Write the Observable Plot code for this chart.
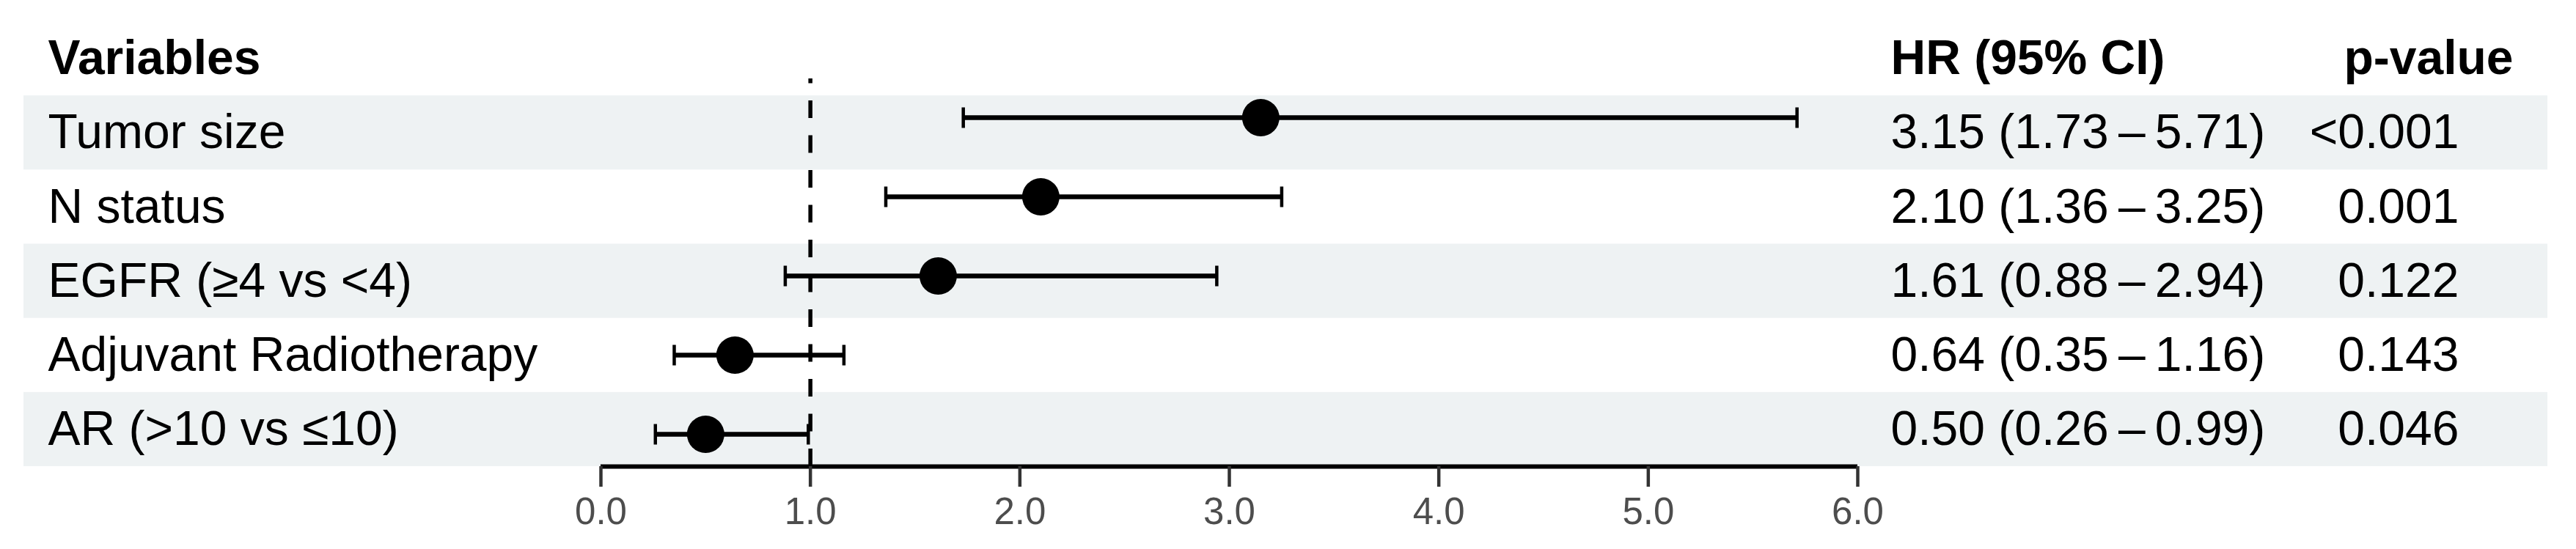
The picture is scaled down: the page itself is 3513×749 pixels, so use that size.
<!DOCTYPE html>
<html>
<head>
<meta charset="utf-8">
<script src="https://cdn.jsdelivr.net/npm/d3@7"></script>
<script src="https://cdn.jsdelivr.net/npm/@observablehq/plot@0.6"></script>
<style>
  html, body { margin: 0; padding: 0; background: #ffffff; }
  #chart { width: 3513px; height: 749px; }
</style>
</head>
<body>
<div id="chart"></div>
<script>
// ---- data ----
const variables = ["Tumor size", "N status", "EGFR (≥4 vs <4)", "Adjuvant Radiotherapy", "AR (>10 vs ≤10)"];
const hr      = [3.15, 2.10, 1.61, 0.64, 0.50];
const lower   = [1.73, 1.36, 0.88, 0.35, 0.26];
const upper   = [5.71, 3.25, 2.94, 1.16, 0.99];
const pValues = ["<0.001", "0.001", "0.122", "0.143", "0.046"];
const headers = ["Variables", "HR (95% CI)", "p-value"];
const xTicks  = [0, 1, 2, 3, 4, 5, 6];
const refValue = 1;

// ---- table built from the arrays ----
const rows = variables.map((name, k) => ({
  idx: k + 1,                       // table row (0 = header)
  ciIdx: 0.795 + k * 1.0675,        // row position of the CI glyphs
  name, hr: hr[k], lo: lower[k], hi: upper[k], p: pValues[k],
  hrText: `${hr[k].toFixed(2)} (${lower[k].toFixed(2)}\u2009–\u2009${upper[k].toFixed(2)})`
}));
const shaded = rows.filter(d => d.idx % 2 === 1);

const capSymbol = {
  draw(context, size) {
    const r = Math.sqrt(size / Math.PI);
    context.moveTo(0, -r);
    context.lineTo(0, r);
  }
};

const FS = 66;
const chart = Plot.plot({
  width: 3513,
  height: 749,
  marginLeft: 32,
  marginRight: 39,
  marginTop: 29,
  marginBottom: 113,
  style: { fontFamily: "'Liberation Sans', Arial, sans-serif", background: "#ffffff", overflow: "visible" },
  x: { domain: [0, 6], range: [819, 2533] },
  y: { domain: [-0.5, 5.5], range: [29, 636], axis: null },
  marks: [
    // zebra bands
    Plot.barY(shaded, { y1: d => d.idx - 0.5, y2: d => d.idx + 0.5, fill: "#eef2f3" }),
    // reference line
    Plot.ruleX([refValue], { y1: 5.5, y2: 0.271, stroke: "#000", strokeWidth: 5.5, strokeDasharray: "24,23.5" }),
    // axis line
    Plot.ruleY([5.5], { x1: 0, x2: 6, stroke: "#000", strokeWidth: 6 }),
    Plot.axisX({
      ticks: xTicks, tickFormat: d => d.toFixed(1), tickSize: 28, tickPadding: 14,
      stroke: "#333333", strokeWidth: 4.5, fill: "#4d4d4d", fontSize: 51, label: null
    }),
    // confidence intervals
    Plot.ruleY(rows, { y: "ciIdx", x1: "lo", x2: "hi", stroke: "#000", strokeWidth: 6.5 }),
    Plot.dot(rows, { x: "lo", y: "ciIdx", symbol: capSymbol, r: 14, stroke: "#000", strokeWidth: 4.5, fill: "none" }),
    Plot.dot(rows, { x: "hi", y: "ciIdx", symbol: capSymbol, r: 14, stroke: "#000", strokeWidth: 4.5, fill: "none" }),
    Plot.dot(rows, { x: "hr", y: "ciIdx", r: 25.5, fill: "#000", stroke: "none" }),
    // headers
    Plot.text([headers[0]], { y: () => 0, text: d => d, frameAnchor: "left", dx: 33, textAnchor: "start", fontSize: FS, fontWeight: "bold", fill: "#000" }),
    Plot.text([headers[1]], { y: () => 0, text: d => d, frameAnchor: "right", dx: -896, textAnchor: "start", fontSize: FS, fontWeight: "bold", fill: "#000" }),
    Plot.text([headers[2]], { y: () => 0, text: d => d, frameAnchor: "right", dx: -278, textAnchor: "start", fontSize: FS, fontWeight: "bold", fill: "#000" }),
    // table text
    Plot.text(rows, { y: "idx", text: "name", frameAnchor: "left", dx: 33, textAnchor: "start", fontSize: FS, fill: "#000" }),
    Plot.text(rows, { y: "idx", text: "hrText", frameAnchor: "right", dx: -896, textAnchor: "start", fontSize: FS, fill: "#000" }),
    Plot.text(rows, { y: "idx", text: "p", frameAnchor: "right", dx: -121, textAnchor: "end", fontSize: FS, fill: "#000" })
  ]
});
document.getElementById("chart").appendChild(chart);
</script>
</body>
</html>
